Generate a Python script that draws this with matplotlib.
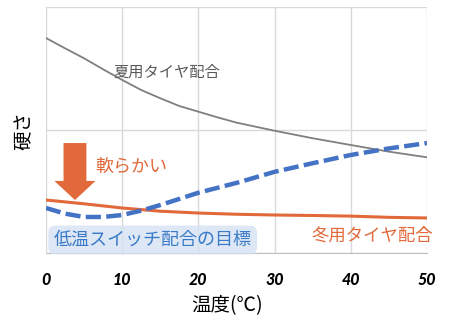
import matplotlib
matplotlib.use("Agg")
import matplotlib.pyplot as plt
from matplotlib.patches import FancyArrow

plt.rcParams['font.family'] = ['Noto Sans CJK JP', 'DejaVu Sans']

# temperature (deg C) and hardness
temp_summer = [0, 2.5, 5, 7.5, 10, 12.5, 15, 17.5, 20, 22.5, 25, 27.5, 30, 35, 40, 45, 50]
hard_summer = [1.748, 1.664, 1.583, 1.493, 1.407, 1.325, 1.258, 1.195, 1.149, 1.103,
               1.06, 1.027, 0.994, 0.933, 0.878, 0.824, 0.778]

temp_winter = [0, 5, 10, 15, 20, 25, 30, 35, 40, 45, 50]
hard_winter = [0.431, 0.40, 0.366, 0.34, 0.325, 0.315, 0.309, 0.305, 0.30, 0.29, 0.285]

temp_target = [0, 2.5, 5, 7.5, 10, 12.5, 15, 17.5, 20, 22.5, 25, 27.5, 30, 35, 40, 45, 50]
hard_target = [0.366, 0.32, 0.293, 0.293, 0.309, 0.345, 0.39, 0.44, 0.49, 0.53, 0.57,
               0.615, 0.66, 0.73, 0.797, 0.85, 0.894]

xticks = [0, 10, 20, 30, 40, 50]

orange = "#E2693A"
blue = "#4472C4"
gray = "#7F7F7F"

fig = plt.figure(figsize=(4.5, 3.3), dpi=100)
ax = fig.add_axes([0.1022, 0.2333, 0.8467, 0.7455])

ax.plot(temp_summer, hard_summer, color=gray, lw=1.3, zorder=3)
ax.plot(temp_winter, hard_winter, color=orange, lw=2.2, zorder=3)
ax.plot(temp_target, hard_target, color=blue, lw=3.2, dashes=(3.4, 1.2), zorder=4)

ax.set_xlim(0, 50)
ax.set_ylim(0, 2)
ax.set_xticks(xticks)
ax.set_yticks([0, 1, 2])
ax.set_yticklabels([])
ax.tick_params(axis='y', length=0)
ax.tick_params(axis='x', length=0, pad=14)
for lab in ax.get_xticklabels():
    lab.set_fontfamily('Lato')
    lab.set_fontweight('black')
    lab.set_fontstyle('italic')
    lab.set_fontsize(11.5)
ax.grid(True, color="#D9D9D9", lw=1.0, zorder=0)
for s in ['top', 'right', 'left']:
    ax.spines[s].set_visible(False)
ax.spines['bottom'].set_color("#BFBFBF")

ax.set_xlabel("温度(℃)", fontsize=14)
ax.xaxis.set_label_coords(0.475, -0.17)
ax.set_ylabel("硬さ", fontsize=14)
ax.yaxis.set_label_coords(-0.03, 0.5)

# arrow pointing down towards softer
ax.add_patch(FancyArrow(3.8, 0.894, 0, -0.463, width=3.0, head_width=5.4,
                        head_length=0.155, length_includes_head=True,
                        color=orange, lw=0, zorder=5))

ax.text(6.43, 0.70, "軟らかい", color=orange, fontsize=13, va='center', ha='left')
ax.text(8.8, 1.47, "夏用タイヤ配合", color="#595959", fontsize=11, va='center', ha='left')
ax.text(50.8, 0.146, "冬用タイヤ配合", color=orange, fontsize=12.5, va='center',
        ha='right', clip_on=False)
ax.text(14.0, 0.106, "低温スイッチ配合の目標", color="#3A7BC8", fontsize=13,
        va='center', ha='center', clip_on=False, zorder=6,
        bbox=dict(boxstyle="round,pad=0.3,rounding_size=0.4",
                  facecolor="#D6E2F3", edgecolor="none", alpha=0.8))

fig.savefig("out.png", dpi=100)
